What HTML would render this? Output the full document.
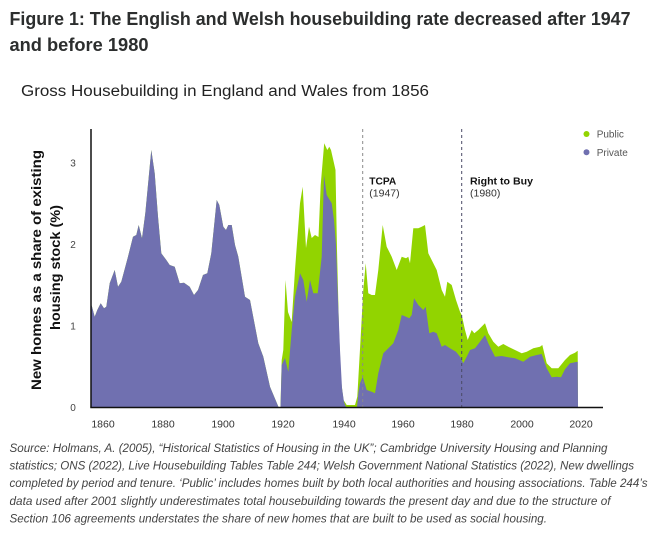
<!DOCTYPE html>
<html>
<head>
<meta charset="utf-8">
<style>
  html, body { margin:0; padding:0; background:#fff; }
  body { width:658px; height:538px; overflow:hidden; }
  svg { display:block; }
  text { font-family: "Liberation Sans", sans-serif; }
</style>
</head>
<body>
<svg width="658" height="538" viewBox="0 0 658 538" xmlns="http://www.w3.org/2000/svg">
  <rect width="658" height="538" fill="#fff"/>

  <!-- Title -->
  <text x="9.5" y="25" font-size="18" font-weight="bold" fill="#2c2e2e" textLength="621" lengthAdjust="spacingAndGlyphs">Figure 1: The English and Welsh housebuilding rate decreased after 1947</text>
  <text x="9.5" y="51" font-size="18" font-weight="bold" fill="#2c2e2e" textLength="139" lengthAdjust="spacingAndGlyphs">and before 1980</text>

  <!-- Subtitle -->
  <text x="21" y="96" font-size="15.5" fill="#222" textLength="408" lengthAdjust="spacingAndGlyphs">Gross Housebuilding in England and Wales from 1856</text>

  <!-- Total (green) area -->
  <path fill="#92d400" d="M91,407 L91,304 L92,306.7 L94.7,316.7 L97.3,310 L100.7,303.3 L104,308.3 L106.3,306.7 L109.7,283.3 L114.7,270 L118,286.7 L121.3,281.7 L128,256.7 L133,236.7 L136.3,235 L138.7,225 L142,238.3 L145.3,213.3 L151.3,150 L154.7,173.3 L158,216.7 L161.3,253.3 L166.3,260 L169.7,265 L174.7,266.7 L179.7,283.3 L184,282.7 L189.7,286.7 L194,295 L198,290 L203,275 L207.3,273.3 L211.3,253.3 L216.7,200 L219.3,205 L223.3,226.7 L226,230 L228.3,225 L231.7,225 L235,245 L238.3,256.7 L245,296.7 L250,300 L258.3,343.3 L263.3,356.7 L270,386.7 L278.5,407 L280.5,407 L281.7,360 L283.3,350 L285.5,280 L288,312 L291.7,322 L295,270 L298,230 L300,203.3 L302.7,186.7 L306,248 L309,226.7 L311.7,238 L315,235 L318.5,237 L320.7,185 L324.2,143.3 L327.3,150 L329.3,146.7 L331,150 L334,163.3 L335.5,170 L337,250 L339,330 L341,380 L343.5,400 L346.7,405 L355,405 L357.3,396.7 L360.7,336.7 L363.3,290 L365.7,263.3 L368.3,293.3 L371.7,295 L375,295 L378.3,270 L382.7,225 L386.7,246.7 L391.7,256.7 L396.7,270 L401.7,256.7 L406,258.3 L408.3,256.7 L410,263.3 L413.3,228.3 L418.3,228.3 L421.7,226.7 L425,225 L428.3,253.3 L436.7,270 L441.7,290 L445,296.7 L447.3,281.7 L451.7,285 L456,300 L460,311.7 L461.7,315 L465,330 L467.7,340 L471.7,330 L474.3,333.3 L478.3,330 L485,323.3 L488.3,333.3 L493.3,341.7 L498.3,346.7 L503.3,344 L508.3,346.7 L515,350 L521.7,353.3 L526.7,351.7 L533.3,348.3 L540,346.7 L542.3,345 L546.7,363.3 L551.7,368.3 L558.3,368.3 L565,360 L570,355 L575,352.7 L577.7,350.7 L578,407 Z"/>

  <!-- Private (purple) area -->
  <path fill="#7070b0" d="M91,407 L91,304 L92,306.7 L94.7,316.7 L97.3,310 L100.7,303.3 L104,308.3 L106.3,306.7 L109.7,283.3 L114.7,270 L118,286.7 L121.3,281.7 L128,256.7 L133,236.7 L136.3,235 L138.7,225 L142,238.3 L145.3,213.3 L151.3,150 L154.7,173.3 L158,216.7 L161.3,253.3 L166.3,260 L169.7,265 L174.7,266.7 L179.7,283.3 L184,282.7 L189.7,286.7 L194,295 L198,290 L203,275 L207.3,273.3 L211.3,253.3 L216.7,200 L219.3,205 L223.3,226.7 L226,230 L228.3,225 L231.7,225 L235,245 L238.3,256.7 L245,296.7 L250,300 L258.3,343.3 L263.3,356.7 L270,386.7 L278.5,407 L280.5,407 L281.7,365 L285,358 L288.3,371.7 L291.7,330 L295,296.7 L300,273.3 L303.3,280 L306.7,301.7 L310,280 L313.3,293.3 L317.7,293.3 L321.7,256.7 L324,175 L326.7,195 L331.7,203.3 L334,220 L336,245 L338,300 L340,350 L342,388 L344,402 L346,407 L357,407 L358.5,392 L360,383.3 L362.7,376.7 L366.7,390 L371.7,391.7 L375,393.3 L378.3,373.3 L383.3,353.3 L388.3,348.3 L393.3,343.3 L398.3,330 L401.7,315 L406,316.7 L409.3,318.3 L411.7,315 L414,298.3 L418.3,305 L423.3,310 L425.7,306.7 L429.3,333.3 L433.3,331.7 L436.7,333.3 L441.7,346.7 L445,345 L450,348.3 L456,351.7 L460,356.7 L463.3,363.3 L466.7,356.7 L470,350 L475,348.3 L480,341.7 L485,335 L488.3,343.3 L495,356.7 L501.7,356 L508.3,357.3 L515,358.3 L523.3,361.7 L530,356.7 L536.7,355 L541.7,354 L546.7,368.3 L551.7,377.3 L556.7,376.7 L561,377.3 L565,369.3 L570,363.3 L575,362.3 L577.7,361.7 L578,407 Z"/>

  <!-- Dashed event lines -->
  <line x1="362.7" y1="129" x2="362.7" y2="407" stroke="#8a8a8a" stroke-width="1" stroke-dasharray="3,3"/>
  <line x1="461.7" y1="129" x2="461.7" y2="407" stroke="#4a4a66" stroke-width="1" stroke-dasharray="3,3"/>

  <!-- Axes -->
  <line x1="91" y1="129" x2="91" y2="407.5" stroke="#111" stroke-width="1.5"/>
  <line x1="90.3" y1="407.5" x2="603" y2="407.5" stroke="#111" stroke-width="1.5"/>

  <!-- Y tick labels -->
  <g font-size="10" fill="#444" text-anchor="middle">
    <text x="73" y="166.5">3</text>
    <text x="73" y="248">2</text>
    <text x="73" y="329.5">1</text>
    <text x="73" y="411">0</text>
  </g>

  <!-- X tick labels -->
  <g font-size="10.5" fill="#333" text-anchor="middle">
    <text x="103" y="427.5">1860</text>
    <text x="163" y="427.5">1880</text>
    <text x="223" y="427.5">1900</text>
    <text x="283" y="427.5">1920</text>
    <text x="344" y="427.5">1940</text>
    <text x="403" y="427.5">1960</text>
    <text x="462" y="427.5">1980</text>
    <text x="522" y="427.5">2000</text>
    <text x="581" y="427.5">2020</text>
  </g>

  <!-- Y axis title -->
  <text transform="translate(41,270) rotate(-90)" font-size="14" font-weight="bold" fill="#111" text-anchor="middle" textLength="240" lengthAdjust="spacingAndGlyphs">New homes as a share of existing</text>
  <text transform="translate(60,267.5) rotate(-90)" font-size="14" font-weight="bold" fill="#111" text-anchor="middle" textLength="125" lengthAdjust="spacingAndGlyphs">housing stock (%)</text>

  <!-- Annotations -->
  <text x="369.3" y="184.5" font-size="10.5" font-weight="bold" fill="#111" textLength="27" lengthAdjust="spacingAndGlyphs">TCPA</text>
  <text x="369.3" y="196.5" font-size="10.5" fill="#333">(1947)</text>
  <text x="470" y="184.5" font-size="10.5" font-weight="bold" fill="#111" textLength="63" lengthAdjust="spacingAndGlyphs">Right to Buy</text>
  <text x="470" y="196.5" font-size="10.5" fill="#333">(1980)</text>

  <!-- Legend -->
  <circle cx="586.5" cy="134" r="3" fill="#92d400"/>
  <text x="596.7" y="137.5" font-size="10" fill="#555">Public</text>
  <circle cx="586.5" cy="152.3" r="3" fill="#7070b0"/>
  <text x="596.7" y="155.8" font-size="10" fill="#555">Private</text>

  <!-- Source text -->
  <g font-size="11.5" font-style="italic" fill="#444">
    <text x="9.5" y="452" textLength="598" lengthAdjust="spacingAndGlyphs">Source: Holmans, A. (2005), “Historical Statistics of Housing in the UK”; Cambridge University Housing and Planning</text>
    <text x="9.5" y="469.5" textLength="624.5" lengthAdjust="spacingAndGlyphs">statistics; ONS (2022), Live Housebuilding Tables Table 244; Welsh Government National Statistics (2022), New dwellings</text>
    <text x="9.5" y="487" textLength="638" lengthAdjust="spacingAndGlyphs">completed by period and tenure. ‘Public’ includes homes built by both local authorities and housing associations. Table 244’s</text>
    <text x="9.5" y="505" textLength="601" lengthAdjust="spacingAndGlyphs">data used after 2001 slightly underestimates total housebuilding towards the present day and due to the structure of</text>
    <text x="9.5" y="522.5" textLength="537.5" lengthAdjust="spacingAndGlyphs">Section 106 agreements understates the share of new homes that are built to be used as social housing.</text>
  </g>
</svg>
</body>
</html>
